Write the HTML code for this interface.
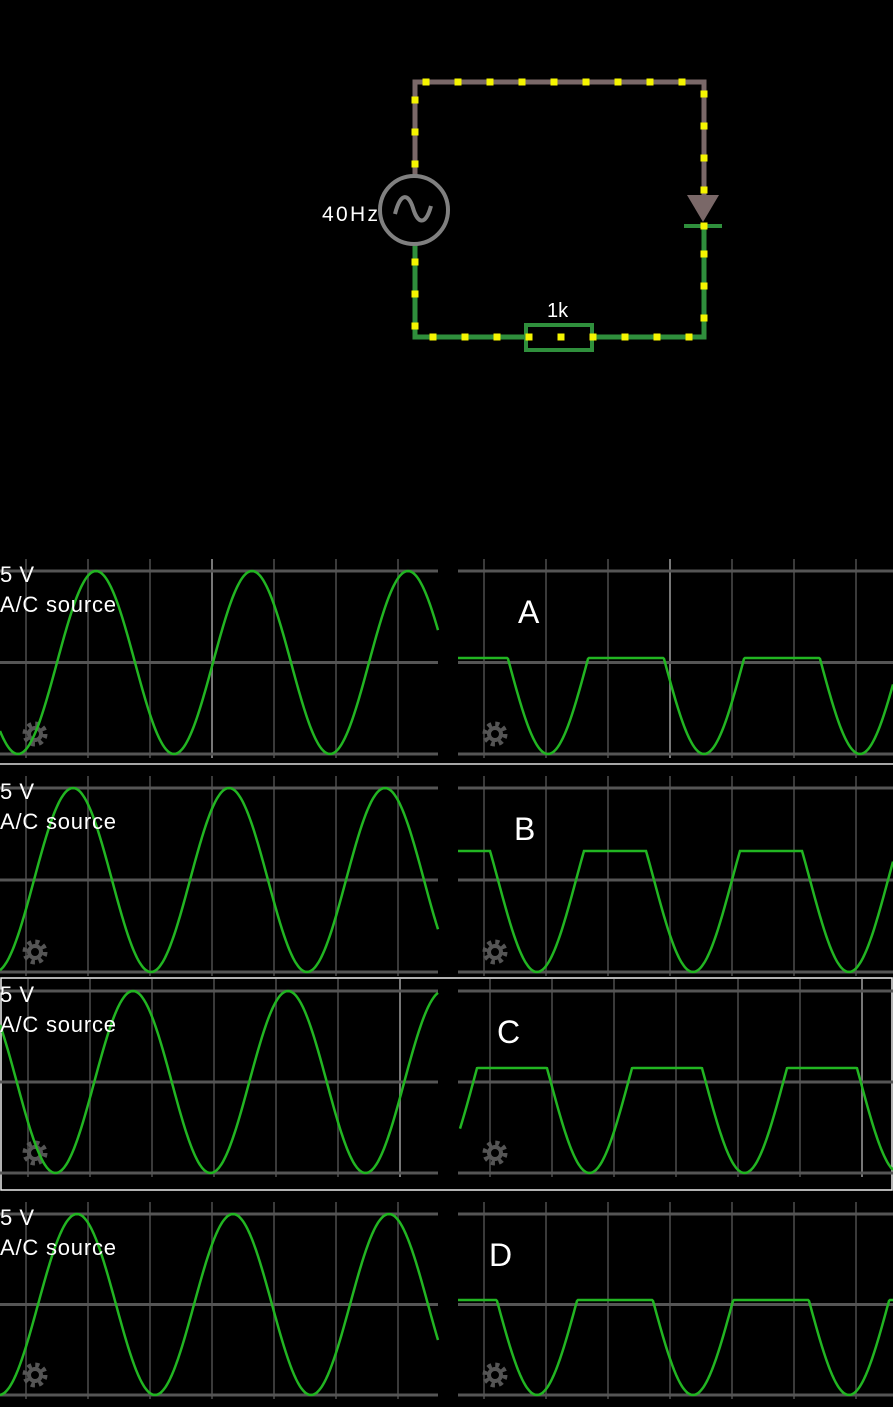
<!DOCTYPE html>
<html><head><meta charset="utf-8"><style>
body{margin:0;background:#000;width:893px;height:1407px;overflow:hidden}
svg{display:block}
text{font-family:"Liberation Sans",sans-serif;fill:#fff}
</style></head><body>
<svg id="s" width="893" height="1407" xmlns="http://www.w3.org/2000/svg">
<rect width="893" height="1407" fill="#000"/>
<g fill="none" stroke-width="5">
<path d="M415 175 V82 H704 V200" stroke="#7a6868"/>
<path d="M415 245 V337 H526 M592 337 H704 V225" stroke="#2f8f3c"/>
</g>
<circle cx="414" cy="210" r="34" fill="none" stroke="#808080" stroke-width="4"/>
<path d="M395 214 C401 190 409 195 413 208 C417 222 425 228 431 206" fill="none" stroke="#808080" stroke-width="4"/>
<polygon points="687,195 719,195 703,222" fill="#7a6868"/>
<line x1="684" y1="226" x2="722" y2="226" stroke="#2f8f3c" stroke-width="4"/>
<rect x="526" y="325" width="66" height="25" fill="none" stroke="#2f8f3c" stroke-width="4"/>
<text x="322" y="221" font-size="21" textLength="56">40Hz</text>
<text x="547" y="317" font-size="20">1k</text>
<g id="dots" fill="#f5f500"></g>
<g id="scopes"></g>
</svg>
<script>
var NS="http://www.w3.org/2000/svg";
function el(p,t,a){var e=document.createElementNS(NS,t);for(var k in a)e.setAttribute(k,a[k]);p.appendChild(e);return e;}
var d=document.getElementById('dots');
var pts=[[426,82],[458,82],[490,82],[522,82],[554,82],[586,82],[618,82],[650,82],[682,82],[704,94],[704,126],[704,158],[704,190],
[415,100],[415,132],[415,164],[415,262],[415,294],[415,326],[433,337],[465,337],[497,337],[529,337],[561,337],[593,337],[625,337],[657,337],[689,337],[704,226],[704,254],[704,286],[704,318]];
pts.forEach(function(p){el(d,'rect',{x:p[0]-3.5,y:p[1]-3.5,width:7,height:7});});
var S=document.getElementById('scopes');
function grid(x0,x1,top,mid,bot,vx,bright){
 vx.forEach(function(x,i){el(S,'line',{x1:x,x2:x,y1:top-12,y2:bot+4,stroke:(i==bright?'#777':'#3a3a3a'),'stroke-width':2});});
 [top,mid,bot].forEach(function(y){el(S,'line',{x1:x0,x2:x1,y1:y,y2:y,stroke:'#555','stroke-width':3});});
}
function wave(x0,x1,peak,T,top,bot,clip){
 var mid=(top+bot)/2,A=(bot-top)/2,s='';
 for(var x=x0;x<=x1;x+=1){var y=mid-A*Math.cos(2*Math.PI*(x-peak)/T);if(clip!=null)y=Math.max(y,clip);s+=(x==x0?'M':'L')+x+' '+y.toFixed(1);}
 el(S,'path',{d:s,fill:'none',stroke:'#22b522','stroke-width':2.5});
}
function gear(cx,cy){
 var g=el(S,'g',{fill:'none',stroke:'#555'});
 el(g,'circle',{cx:cx,cy:cy,r:10,'stroke-width':5,'stroke-dasharray':'4 3.85'});
 el(g,'circle',{cx:cx,cy:cy,r:6,'stroke-width':4});
}
function label(x,y,t,s,len){var a={x:x,y:y,'font-size':s};if(len)a.textLength=len;var e=el(S,'text',a);e.textContent=t;}
function panel(o){
 var top=o.top,bot=o.bot,mid=(top+bot)/2;
 var vl=[],vr=[];for(var i=0;i<7;i++){vl.push(o.gl+62*i);vr.push(o.gr+62*i);}
 grid(0,438,top,mid,bot,vl,o.bl);grid(458,893,top,mid,bot,vr,o.br);
 gear(35,bot-20);gear(495,bot-20);
 wave(0,438,o.pl,o.T,top,bot,null);
 wave(o.rx0,893,o.pr,o.T,top,bot,o.clip);
 label(0,top+11,'5 V',22,34);label(0,top+41,'A/C source',22,116);
 var e=el(S,'text',{x:o.lx,y:top+52,'font-size':32,'font-family':'Liberation Sans Narrow, Liberation Sans, sans-serif'});e.textContent=o.L;
}
panel({top:571,bot:754,gl:26,bl:3,gr:484,br:3,pl:96,pr:470,T:156,rx0:458,clip:658,L:'A',lx:518});
el(S,'line',{x1:0,x2:893,y1:764,y2:764,stroke:'#ddd','stroke-width':1.5});
panel({top:788,bot:972,gl:26,bl:-1,gr:484,br:-1,pl:73,pr:459,T:156,rx0:458,clip:851,L:'B',lx:514});
el(S,'rect',{x:1,y:978,width:891,height:212,fill:'none',stroke:'#eee','stroke-width':1.5});
panel({top:991,bot:1173,gl:28,bl:6,gr:490,br:6,pl:133,pr:512,T:155,rx0:460,clip:1068,L:'C',lx:497});
panel({top:1214,bot:1395,gl:26,bl:-1,gr:484,br:-1,pl:77,pr:459,T:156,rx0:458,clip:1300,L:'D',lx:489});
</script>
</body></html>
